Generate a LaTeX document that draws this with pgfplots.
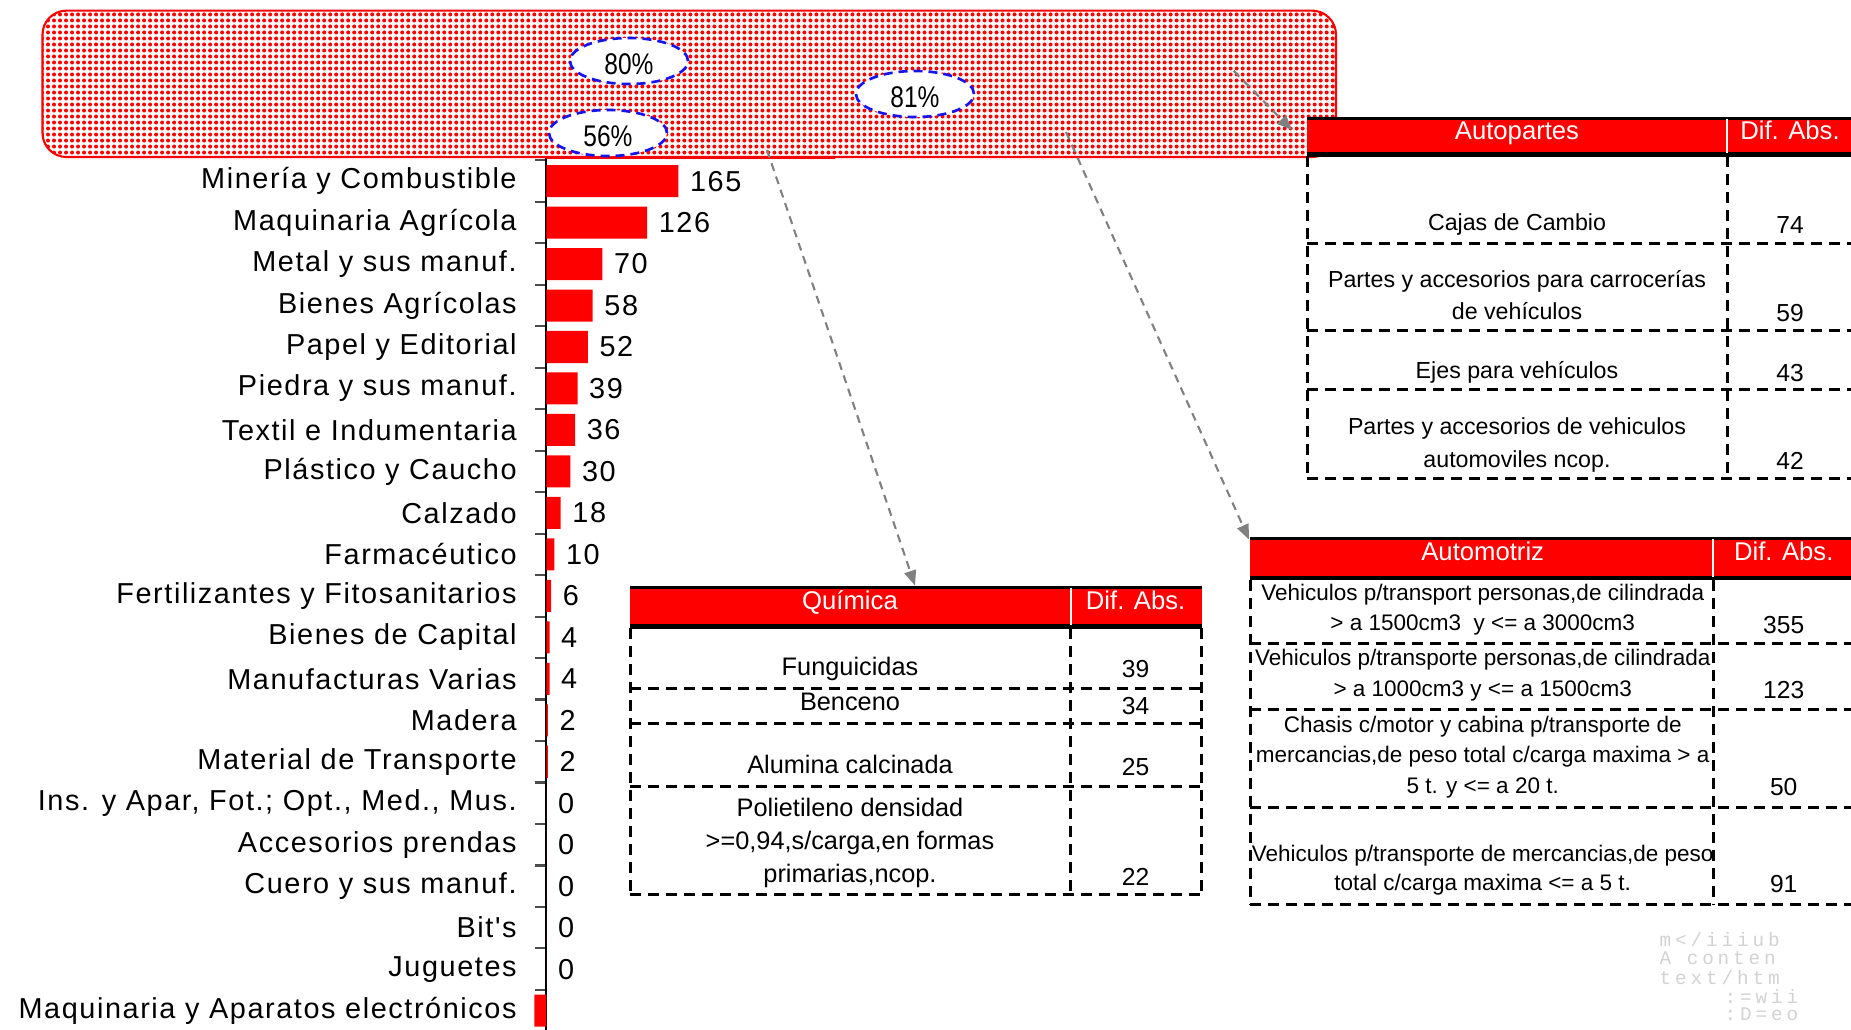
\documentclass[border=0pt]{standalone}
\usepackage{fontspec}
\setmainfont{Liberation Sans}
\setmonofont{Liberation Mono}
\newfontfamily\catfont[LetterSpace=5.5]{Liberation Sans}
\newfontfamily\narrowfont[FakeStretch=0.82]{Liberation Sans}
\newfontfamily\wmfont[LetterSpace=20]{Liberation Mono}
\usepackage{pgfplots}
\pgfplotsset{compat=1.18}
\usepackage{pgfplotstable}
\usetikzlibrary{arrows.meta,patterns.meta}

\definecolor{ellblue}{RGB}{20,20,235}
\definecolor{arrgray}{RGB}{128,128,128}

% bars with a value label
\pgfplotstableread{
y v
0 165
1 126
2 70
3 58
4 52
5 39
6 36
7 30
8 18
9 10
10 6
11 4
12 4
13 2
14 2
15 0
16 0
17 0
18 0
19 0
}\labeled
% bar hidden under the box, and the negative one at the bottom
\pgfplotstableread{
y v
-0.92 361
20 -15
}\unlabeled

\begin{document}
\begin{tikzpicture}[x=0.01cm,y=-0.01cm,
  dl/.style={black,line width=0.85pt,dash pattern=on 0.11cm off 0.07cm},
  hd/.style={white,anchor=mid,font=\fontsize{7.3}{8}\selectfont},
  ta/.style={anchor=mid,font=\fontsize{6.6}{8}\selectfont},
  tq/.style={anchor=mid,font=\fontsize{7.2}{8}\selectfont},
  tm/.style={anchor=mid,font=\fontsize{6.4}{8}\selectfont},
  num/.style={anchor=mid,font=\fontsize{7}{8}\selectfont},
  wm/.style={gray!35,anchor=west,inner sep=0pt,font=\wmfont\fontsize{5.5}{6}\selectfont},
  arr/.style={arrgray,line width=0.6pt,dash pattern=on 0.08cm off 0.06cm,-{Triangle[length=0.15cm,width=0.12cm]}}]
\useasboundingbox (0,0) rectangle (1851,1029);

\begin{axis}[at={(5.46cm,-1.188cm)},anchor=north west,
  x=0.008cm,y=0.4145cm,y dir=reverse,
  xmin=0,xmax=400,ymin=-1.5,ymax=20.46,
  axis x line=none,axis y line*=left,
  axis line style={black,line width=0.6pt},
  clip=false,
  ytick={0,...,20},
  yticklabels={Minería y Combustible,Maquinaria Agrícola,Metal y sus manuf.,Bienes Agrícolas,Papel y Editorial,Piedra y sus manuf.,Textil e Indumentaria,Plástico y Caucho,Calzado,Farmacéutico,Fertilizantes y Fitosanitarios,Bienes de Capital,Manufacturas Varias,Madera,Material de Transporte,{Ins. y Apar, Fot.; Opt., Med., Mus.},Accesorios prendas,Cuero y sus manuf.,Bit's,Juguetes,Maquinaria y Aparatos electrónicos},
  minor ytick={-0.5,0.5,...,19.5},
  major tick length=0pt,minor tick length=0.11cm,tick align=outside,
  minor tick style={gray!60!black,line width=0.6pt},
  yticklabel style={font=\catfont\fontsize{8.2}{9}\selectfont,anchor=east,inner sep=0pt,xshift=-0.29cm},
  /pgf/number format/assume math mode=true]
\addplot[xbar,bar width=0.32cm,bar shift=0pt,fill=red,draw=none,
  point meta=x,nodes near coords,
  every node near coord/.append style={font=\catfont\fontsize{8.2}{9}\selectfont,anchor=west,inner sep=0pt,xshift=0.11cm,black}]
  table[x=v,y=y]{\labeled};
\addplot[xbar,bar width=0.32cm,bar shift=0pt,fill=red,draw=none]
  table[x=v,y=y]{\unlabeled};
\end{axis}

% dotted box
\fill[white,rounded corners=0.24cm] (42.5,10.6) rectangle (1336,157);
\fill[pattern={Dots[distance=0.06cm,radius=0.02cm]},pattern color=red,rounded corners=0.24cm] (42.5,10.6) rectangle (1336,157);
\draw[red,line width=0.6pt,rounded corners=0.24cm] (42.5,10.6) rectangle (1336,157);

% percentage ellipses
\foreach \cx/\cy/\t in {629/61/80,915/94/81,608/133/56}{
  \draw[ellblue,fill=white,line width=0.75pt,dash pattern=on 0.09cm off 0.06cm] (\cx,\cy) ellipse [x radius=0.59cm,y radius=0.23cm];
  \node[font=\narrowfont\fontsize{8.5}{10}\selectfont] at (\cx,\cy+3) {\t\%};
}

% Autopartes table
\fill[red] (1307,118) rectangle (1851,153.5);
\draw[black,line width=0.85pt] (1307,118) -- (1851,118);
\draw[black,line width=1.2pt] (1307,154.5) -- (1851,154.5);
\draw[white,line width=0.6pt] (1727,119) -- (1727,153);
\draw[dl] (1307,156) -- (1307,478);
\draw[dl] (1727,156) -- (1727,478);
\foreach \yy in {243,330.5,389.6,478} \draw[dl] (1307,\yy) -- (1851,\yy);
\node[hd] at (1517,130) {Autopartes};
\node[hd] at (1790,130) {Dif. Abs.};
\node[ta] at (1517,221) {Cajas de Cambio};
\node[num] at (1790,224) {74};
\node[ta] at (1517,278.6) {Partes y accesorios para carrocerías};
\node[ta] at (1517,310.5) {de vehículos};
\node[num] at (1790,311.7) {59};
\node[ta] at (1517,369.5) {Ejes para vehículos};
\node[num] at (1790,372) {43};
\node[ta] at (1517,425) {Partes y accesorios de vehiculos};
\node[ta] at (1517,458) {automoviles ncop.};
\node[num] at (1790,460) {42};

% Quimica table
\fill[red] (630.4,587) rectangle (1201.8,625.7);
\draw[black,line width=0.85pt] (630.4,587) -- (1201.8,587);
\draw[black,line width=1.2pt] (630.4,626.5) -- (1201.8,626.5);
\draw[white,line width=0.6pt] (1070.7,588) -- (1070.7,625);
\foreach \xx in {630.4,1070.7,1201.8} \draw[dl] (\xx,628) -- (\xx,894.8);
\foreach \yy in {688.2,723.7,786.2,894.8} \draw[dl] (630.4,\yy) -- (1201.8,\yy);
\node[hd] at (850,600) {Química};
\node[hd] at (1135.6,600) {Dif. Abs.};
\node[tq] at (850,665.8) {Funguicidas};
\node[num] at (1135.6,668.2) {39};
\node[tq] at (850,701.2) {Benceno};
\node[num] at (1135.6,704.8) {34};
\node[tq] at (850,763.8) {Alumina calcinada};
\node[num] at (1135.6,766.2) {25};
\node[tq] at (850,807.5) {Polietileno densidad};
\node[tq] at (850,840.5) {>=0,94,s/carga,en formas};
\node[tq] at (850,873.6) {primarias,ncop.};
\node[num] at (1135.6,876) {22};

% Automotriz table
\fill[red] (1250,538.3) rectangle (1851,577.3);
\draw[black,line width=0.85pt] (1250,538.3) -- (1851,538.3);
\draw[black,line width=1.2pt] (1250,578) -- (1851,578);
\draw[white,line width=0.6pt] (1713,539) -- (1713,577);
\foreach \xx in {1250,1713} \draw[dl] (\xx,580) -- (\xx,904.3);
\foreach \yy in {643.4,709.5,807.5,904.3} \draw[dl] (1250,\yy) -- (1851,\yy);
\node[hd] at (1482.7,551) {Automotriz};
\node[hd] at (1783.7,551) {Dif. Abs.};
\node[tm] at (1482.7,591.4) {Vehiculos p/transport personas,de cilindrada};
\node[tm] at (1482.7,621.5) {> a 1500cm3\ \ y <= a 3000cm3};
\node[num] at (1783.7,624.5) {355};
\node[tm] at (1482.7,656.5) {Vehiculos p/transporte personas,de cilindrada};
\node[tm] at (1482.7,687) {> a 1000cm3 y <= a 1500cm3};
\node[num] at (1783.7,689.4) {123};
\node[tm] at (1482.7,723.6) {Chasis c/motor y cabina p/transporte de};
\node[tm] at (1482.7,753.2) {mercancias,de peso total c/carga maxima > a};
\node[tm] at (1482.7,783.9) {5 t. y <= a 20 t.};
\node[num] at (1783.7,786.2) {50};
\node[tm] at (1482.7,852.3) {Vehiculos p/transporte de mercancias,de peso};
\node[tm] at (1482.7,880.7) {total c/carga maxima <= a 5 t.};
\node[num] at (1783.7,883) {91};

% arrows
\draw[arr] (1233.6,70.8) -- (1292,130);
\draw[arr] (767,150) -- (915,585.5);
\draw[arr] (1066,132) -- (1249,539.5);

% faint watermark
\node[wm] at (1659,939.7) {m</iiiub};
\node[wm] at (1659,958.6) {A conten};
\node[wm] at (1659,977.5) {text/htm};
\node[wm] at (1724,996.4) {:=wii};
\node[wm] at (1724,1014) {:D=eo};
\end{tikzpicture}
\end{document}
